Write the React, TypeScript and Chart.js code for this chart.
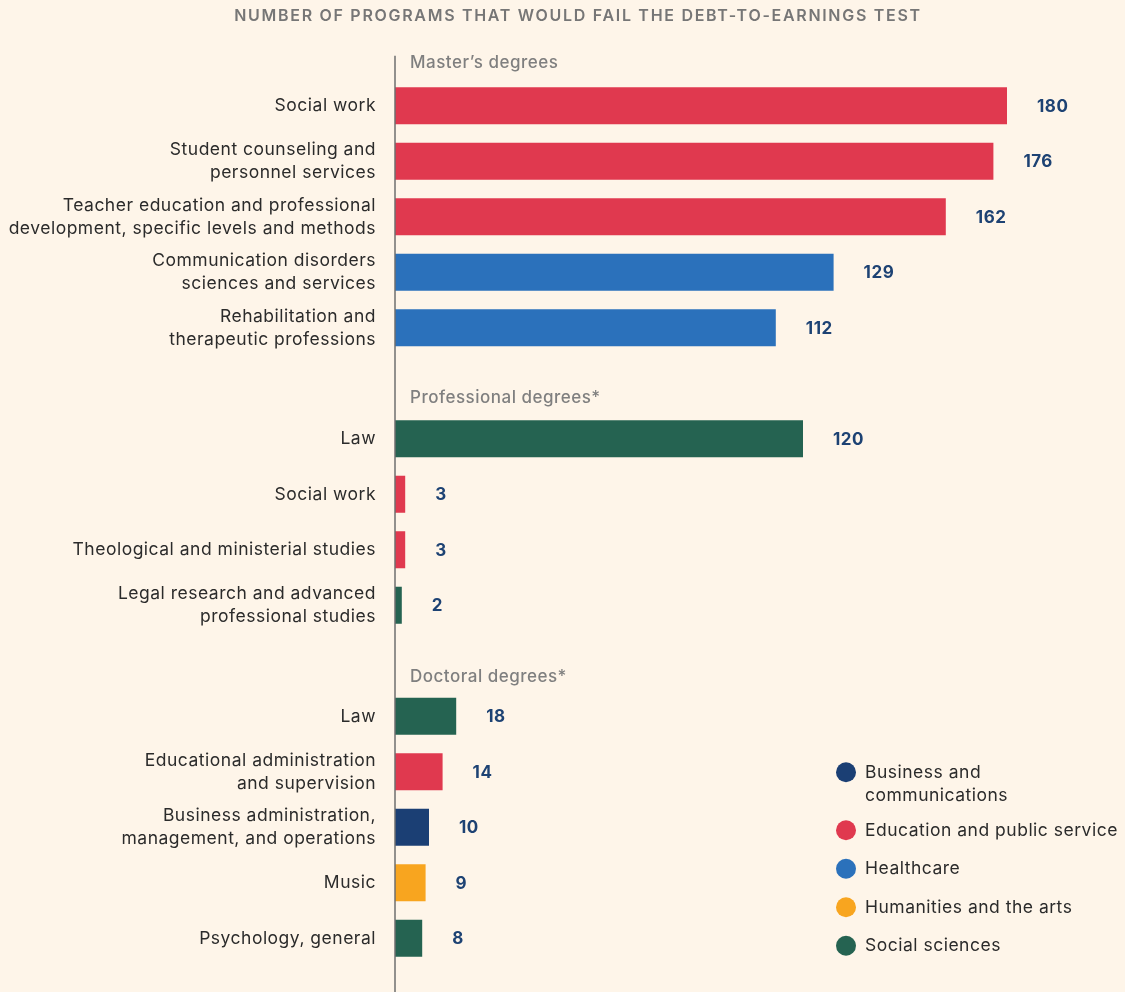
import React, { useEffect, useRef } from "react";
import { Chart, registerables } from "chart.js";

Chart.register(...registerables);

const titleText = "NUMBER OF PROGRAMS THAT WOULD FAIL THE DEBT-TO-EARNINGS TEST";

const groupHeaders = ["Master\u2019s degrees", "Professional degrees*", "Doctoral degrees*"];

const labels: (string | string[])[] = [
  "Social work",
  ["Student counseling and", "personnel services"],
  ["Teacher education and professional", "development, specific levels and methods"],
  ["Communication disorders", "sciences and services"],
  ["Rehabilitation and", "therapeutic professions"],
  "",
  "Law",
  "Social work",
  "Theological and ministerial studies",
  ["Legal research and advanced", "professional studies"],
  "",
  "Law",
  ["Educational administration", "and supervision"],
  ["Business administration,", "management, and operations"],
  "Music",
  "Psychology, general",
];

const values: (number | null)[] = [180, 176, 162, 129, 112, null, 120, 3, 3, 2, null, 18, 14, 10, 9, 8];

const fields: string[] = [
  "edu", "edu", "edu", "health", "health", "",
  "soc", "edu", "edu", "soc", "",
  "soc", "edu", "bus", "hum", "soc",
];

const legendKeys = ["bus", "edu", "health", "hum", "soc"];
const legendLabels: string[][] = [
  ["Business and", "communications"],
  ["Education and public service"],
  ["Healthcare"],
  ["Humanities and the arts"],
  ["Social sciences"],
];

const fieldColors: Record<string, string> = {
  bus: "#1b3f74",
  edu: "#e0394f",
  health: "#2b71bb",
  hum: "#f8a51f",
  soc: "#256351",
};

const FONT = "Inter, 'Noto Sans', sans-serif";
const BG = "#fef5e9";
const SPACING = "0.5px";

const overlayPlugin = {
  id: "overlay",
  beforeLayout(chart: any) {
    (chart.ctx as any).letterSpacing = SPACING;
  },
  beforeDraw(chart: any) {
    (chart.ctx as any).letterSpacing = SPACING;
  },
  afterDraw(chart: any) {
    const ctx = chart.ctx as CanvasRenderingContext2D;
    const area = chart.chartArea;
    const yScale = chart.scales.y;
    ctx.save();

    // title
    ctx.font = `600 16px ${FONT}`;
    (ctx as any).letterSpacing = "1.7px";
    ctx.fillStyle = "#767676";
    ctx.textAlign = "center";
    ctx.textBaseline = "middle";
    ctx.fillText(titleText, 578, 16);
    (ctx as any).letterSpacing = SPACING;

    // axis line
    const firstY = yScale.getPixelForValue(0);
    ctx.strokeStyle = "#6e6e6e";
    ctx.lineWidth = 1.5;
    ctx.beginPath();
    ctx.moveTo(area.left, firstY - 50);
    ctx.lineTo(area.left, chart.height);
    ctx.stroke();

    // group headers
    const blanks: number[] = [];
    values.forEach((v, i) => {
      if (v === null) blanks.push(i);
    });
    const headerYs = [firstY - 42.5, ...blanks.map((i, j) => yScale.getPixelForValue(i) + 15 + j)];
    ctx.font = `500 17px ${FONT}`;
    ctx.fillStyle = "#7f7f7f";
    ctx.textAlign = "left";
    headerYs.forEach((hy, i) => ctx.fillText(groupHeaders[i], area.left + 15, hy));

    // value labels
    const meta = chart.getDatasetMeta(0);
    ctx.font = `700 17px ${FONT}`;
    ctx.fillStyle = "#1d4273";
    meta.data.forEach((bar: any, i: number) => {
      const v = values[i];
      if (v === null) return;
      ctx.fillText(String(v), bar.x + 30, bar.y + 1);
    });

    // legend
    let ly = yScale.getPixelForValue(12) + 0.5;
    const lx = 846;
    ctx.font = `400 17.5px ${FONT}`;
    legendKeys.forEach((k, i) => {
      ctx.fillStyle = fieldColors[k];
      ctx.beginPath();
      ctx.arc(lx, ly, 10, 0, Math.PI * 2);
      ctx.fill();
      ctx.fillStyle = "#2b2b2b";
      legendLabels[i].forEach((line, j) => ctx.fillText(line, lx + 19, ly + j * 23));
      ly += legendLabels[i].length > 1 ? 58 : 38.5;
    });

    ctx.restore();
  },
};

export default function App() {
  const ref = useRef<HTMLCanvasElement | null>(null);

  useEffect(() => {
    document.body.style.margin = "0";
    document.body.style.background = BG;
    if (!ref.current) return;
    const chart = new Chart(ref.current, {
      type: "bar",
      data: {
        labels,
        datasets: [
          {
            data: values,
            backgroundColor: fields.map((f) => fieldColors[f] || "transparent"),
            borderWidth: 0,
            categoryPercentage: 1,
            barPercentage: 0.667,
          },
        ],
      },
      options: {
        indexAxis: "y",
        animation: false,
        responsive: true,
        maintainAspectRatio: false,
        layout: { padding: { top: 78, bottom: 26, left: 0, right: 50 } },
        plugins: {
          legend: { display: false },
          tooltip: { enabled: false },
          title: { display: false },
        },
        scales: {
          x: {
            min: 0,
            max: 200,
            display: false,
          },
          y: {
            grid: { display: false, drawTicks: false },
            border: { display: false },
            ticks: {
              padding: 19,
              color: "#2b2b2b",
              font: { family: FONT, size: 17.5, lineHeight: "23px" as any },
              autoSkip: false,
            },
            afterFit: (scale: any) => {
              scale.width = 395;
              scale.paddingTop = 0;
              scale.paddingBottom = 0;
            },
          },
        },
      },
      plugins: [overlayPlugin],
    });
    return () => chart.destroy();
  }, []);

  return (
    <div style={{ position: "absolute", left: 0, top: 0, width: 1125, height: 992, background: BG }}>
      <canvas ref={ref} />
    </div>
  );
}
